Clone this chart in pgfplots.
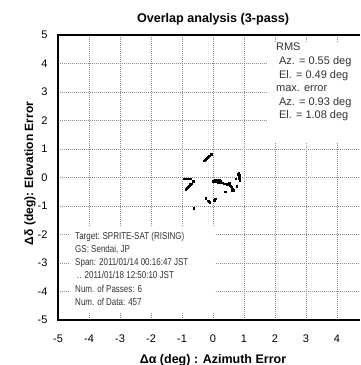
\documentclass[border=0pt]{standalone}
\usepackage{pgfplots}
\pgfplotsset{compat=1.18}
\usepackage{fontspec}
\setmainfont{Liberation Sans}
\newfontfamily\narrowfont[FakeStretch=0.8]{Liberation Sans}
\newfontfamily\boxfont{Liberation Sans}
\begin{document}
\begin{tikzpicture}
\clip (-58pt,-45pt) rectangle (302pt,320pt);
\begin{axis}[
  at={(0pt,0pt)}, anchor=south west,
  scale only axis, width=310pt, height=285pt,
  xmin=-5, xmax=5, ymin=-5, ymax=5,
  xtick={-5,-4,...,5}, ytick={-5,-4,...,5},
  xticklabels={-5,-4,-3,-2,-1,0,1,2,3,4,{}},
  grid=major,
  major grid style={dash pattern=on 1.2pt off 0.8pt, black!45, line width=0.45pt},
  major tick length=0pt,
  axis line style={line width=1.1pt},
  tick label style={font=\fontsize{11}{13}\selectfont},
  /pgf/number format/assume math mode=true,
  xticklabel style={yshift=-11pt},
  yticklabel style={xshift=-7pt},
  clip=false,
]
\addplot[only marks, mark=square*, mark size=0.75pt, black] coordinates {
(-0.29,0.59) (-0.26,0.62) (-0.23,0.65) (-0.20,0.68) (-0.17,0.71) (-0.14,0.74) (-0.11,0.77) (-0.08,0.80) (-0.06,0.82)
(-0.93,-0.05) (-0.88,-0.05) (-0.83,-0.05) (-0.78,-0.05) (-0.73,-0.05)
(-0.88,-0.41) (-0.85,-0.37) (-0.82,-0.34) (-0.79,-0.31) (-0.76,-0.28) (-0.73,-0.24) (-0.70,-0.21) (-0.64,-0.13)
(0.01,-0.13) (0.05,-0.14) (0.10,-0.15) (0.15,-0.16) (0.20,-0.17) (0.25,-0.18) (0.30,-0.19) (0.35,-0.21) (0.40,-0.22) (0.45,-0.24) (0.50,-0.25)
(0.05,-0.09) (0.10,-0.09) (0.15,-0.10) (0.20,-0.10) (0.25,-0.11)
(0.52,-0.20) (0.55,-0.28) (0.58,-0.33) (0.61,-0.37) (0.64,-0.41) (0.66,-0.44) (0.60,-0.44)
(0.39,-0.49) (0.76,-0.30) (0.73,-0.05)
(0.83,0.15) (0.84,0.10) (0.84,0.05) (0.85,0.00) (0.85,-0.05) (0.86,-0.10) (0.82,0.12)
(-0.23,-0.73) (-0.16,-0.82) (-0.13,-0.85) (-0.10,-0.87) (0.04,-0.79) (0.06,-0.77) (0.08,-0.75)
(-0.62,-1.07)
};
\fill[white] (axis cs:1.77,1.2) rectangle (axis cs:5.5,4.75);
\fill[white] (axis cs:-4.65,-1.74) rectangle (axis cs:0.07,-4.72);
\node[anchor=north west, inner sep=0pt, align=left, text=black!80,
  font=\boxfont\fontsize{11}{13.6}\selectfont] at (axis cs:2.03,4.72)
  {RMS\\\hspace*{3pt}Az. = 0.55 deg\\\hspace*{3pt}El. = 0.49 deg\\max. error\\\hspace*{3pt}Az. = 0.93 deg\\\hspace*{3pt}El. = 1.08 deg};
\node[anchor=north west, inner sep=0pt, align=left, text=black!80,
  font=\narrowfont\fontsize{10}{13.3}\selectfont] at (axis cs:-4.45,-1.9)
  {Target: SPRITE-SAT (RISING)\\GS: Sendai, JP\\Span: 2011/01/14 00:16:47 JST\\\hspace*{2pt}.. 2011/01/18 12:50:10 JST\\Num. of Passes: 6\\Num. of Data: 457};
\node[font=\bfseries\fontsize{12.6}{14}\selectfont] at (rel axis cs:0.5,1) [yshift=16pt] {Overlap analysis (3-pass)};
\node[font=\bfseries\fontsize{12.5}{14}\selectfont] at (rel axis cs:0.5,0) [yshift=-40pt] {Δα (deg) : Azimuth Error};
\node[font=\bfseries\fontsize{12}{14}\selectfont, xshift=-28pt, yshift=4pt, rotate=90] at (rel axis cs:0,0.5) {Δδ (deg): Elevation Error};
\end{axis}
\end{tikzpicture}
\end{document}
